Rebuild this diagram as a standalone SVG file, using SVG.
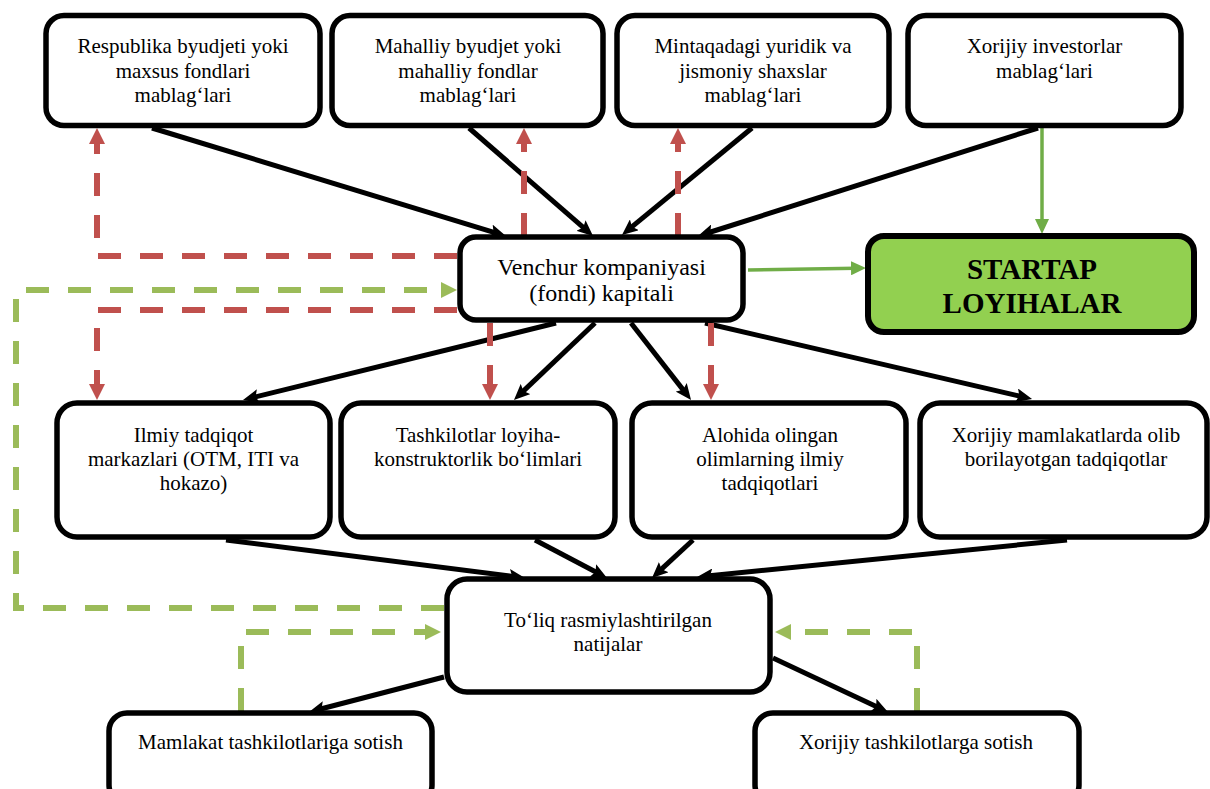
<svg xmlns="http://www.w3.org/2000/svg" width="1210" height="789" viewBox="0 0 1210 789">
<style>
.box{fill:#fff;stroke:#000;stroke-width:5.5}
.start{fill:#92D050;stroke:#000;stroke-width:6}
.t{font-family:"Liberation Serif","Times New Roman",serif;font-size:21px;fill:#000;text-anchor:middle}
.tv{font-size:24px}
.tb{font-family:"Liberation Serif","Times New Roman",serif;font-size:29px;font-weight:bold;fill:#000;text-anchor:middle}
.blk{fill:none;stroke:#000;stroke-width:5}
.red{fill:none;stroke:#C0504D;stroke-width:6;stroke-dasharray:23 19}
.gd{fill:none;stroke:#9BBB59;stroke-width:6;stroke-dasharray:23 19}
.gs{fill:none;stroke:#70AD47;stroke-width:3.5}
</style>
<defs>
<marker id="ab" markerUnits="userSpaceOnUse" markerWidth="16" markerHeight="14" viewBox="0 0 16 14" refX="6" refY="7" orient="auto"><path d="M0,0 L16,7 L0,14 L3,7 z" fill="#000"/></marker>
<marker id="ar" markerUnits="userSpaceOnUse" markerWidth="16" markerHeight="16" viewBox="0 0 16 16" refX="6" refY="8" orient="auto"><path d="M0,0 L16,8 L0,16 z" fill="#C0504D"/></marker>
<marker id="ag" markerUnits="userSpaceOnUse" markerWidth="16" markerHeight="16" viewBox="0 0 16 16" refX="6" refY="8" orient="auto"><path d="M0,0 L16,8 L0,16 z" fill="#9BBB59"/></marker>
<marker id="as" markerUnits="userSpaceOnUse" markerWidth="15" markerHeight="14" viewBox="0 0 15 14" refX="5" refY="7" orient="auto"><path d="M0,0 L15,7 L0,14 z" fill="#70AD47"/></marker>
</defs>

<g id="connectors">
<g marker-end="url(#ab)" class="blk">
<path class="blk" d="M152,128 L496.4,233.1"/>
<path class="blk" d="M469,128 L585.5,229.4"/>
<path class="blk" d="M752,128 L629.7,228.6"/>
<path class="blk" d="M1038,128 L707.5,233"/>
<path class="blk" d="M556,323 L252.7,397.6"/>
<path class="blk" d="M595,323 L521.2,393.1"/>
<path class="blk" d="M631,323 L684.9,392.1"/>
<path class="blk" d="M705,323 L1022.3,396.7"/>
<path class="blk" d="M226,540 L515.1,576.7"/>
<path class="blk" d="M535,540 L598.2,573.3"/>
<path class="blk" d="M693,540 L659.3,571.2"/>
<path class="blk" d="M1067,540 L707,576"/>
<path class="blk" d="M444,677 L318.7,709.5"/>
<path class="blk" d="M773,658 L878.9,707.7"/>
</g>
<g marker-end="url(#ar)">
<path class="red" d="M457,256 H97 V138"/>
<path class="red" d="M524,236 V138"/>
<path class="red" d="M678,236 V138"/>
<path class="red" d="M457,310 H97 V390"/>
<path class="red" d="M490,323 V390"/>
<path class="red" d="M711,323 V390"/>
</g>
<g marker-end="url(#ag)">
<path class="gd" d="M444,608 H16 V290 H447"/>
<path class="gd" d="M241,711 V632 H431"/>
<path class="gd" d="M917,711 V632 H785"/>
</g>
<g marker-end="url(#as)">
<path class="gs" d="M1042,128 V224"/>
<path class="gs" d="M748,270 L856,268.2"/>
</g>
</g>

<g id="n1"><rect class="box" x="46" y="15.5" width="274" height="110" rx="18"/>
<text class="t" x="183" y="53">Respublika byudjeti yoki</text><text class="t" x="183" y="77.5">maxsus fondlari</text><text class="t" x="183" y="102">mablag‘lari</text></g>
<g id="n2"><rect class="box" x="332" y="15.5" width="271" height="110" rx="18"/>
<text class="t" x="468" y="53">Mahalliy byudjet yoki</text><text class="t" x="468" y="77.5">mahalliy fondlar</text><text class="t" x="468" y="102">mablag‘lari</text></g>
<g id="n3"><rect class="box" x="617" y="15.5" width="272" height="110" rx="18"/>
<text class="t" x="753" y="53">Mintaqadagi yuridik va</text><text class="t" x="753" y="77.5">jismoniy shaxslar</text><text class="t" x="753" y="102">mablag‘lari</text></g>
<g id="n4"><rect class="box" x="908" y="15.5" width="273" height="110" rx="18"/>
<text class="t" x="1044.5" y="53">Xorijiy investorlar</text><text class="t" x="1044.5" y="77.5">mablag‘lari</text></g>

<g id="n5"><rect class="box" x="460" y="237" width="283" height="83" rx="16"/>
<text class="t tv" x="601.5" y="275">Venchur kompaniyasi</text><text class="t tv" x="601.5" y="301">(fondi) kapitali</text></g>
<g id="n6"><rect class="start" x="868" y="236" width="326" height="96" rx="16"/>
<text class="tb" x="1032" y="279">STARTAP</text><text class="tb" x="1032" y="313">LOYIHALAR</text></g>

<g id="n7"><rect class="box" x="57" y="403" width="273" height="134" rx="20"/>
<text class="t" x="193.5" y="442">Ilmiy tadqiqot</text><text class="t" x="193.5" y="466">markazlari (OTM, ITI va</text><text class="t" x="193.5" y="490">hokazo)</text></g>
<g id="n8"><rect class="box" x="341" y="403" width="274" height="134" rx="20"/>
<text class="t" x="478" y="442">Tashkilotlar loyiha-</text><text class="t" x="478" y="466">konstruktorlik bo‘limlari</text></g>
<g id="n9"><rect class="box" x="632" y="403" width="274" height="134" rx="20"/>
<text class="t" x="770" y="442">Alohida olingan</text><text class="t" x="770" y="466">olimlarning ilmiy</text><text class="t" x="770" y="490">tadqiqotlari</text></g>
<g id="n10"><rect class="box" x="920" y="403" width="287" height="134" rx="20"/>
<text class="t" x="1066" y="442">Xorijiy mamlakatlarda olib</text><text class="t" x="1066" y="466">borilayotgan tadqiqotlar</text></g>

<g id="n11"><rect class="box" x="447" y="579" width="323" height="113" rx="20"/>
<text class="t" x="608" y="627">To‘liq rasmiylashtirilgan</text><text class="t" x="608" y="651">natijalar</text></g>

<g id="n12"><rect class="box" x="109" y="713" width="323" height="90" rx="18"/>
<text class="t" x="270.5" y="749">Mamlakat tashkilotlariga sotish</text></g>
<g id="n13"><rect class="box" x="755" y="713" width="324" height="90" rx="18"/>
<text class="t" x="916" y="749">Xorijiy tashkilotlarga sotish</text></g>
</svg>
